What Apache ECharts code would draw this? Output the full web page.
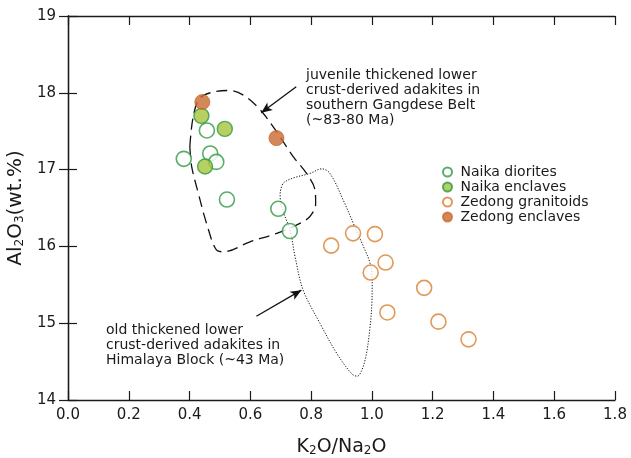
<!DOCTYPE html>
<html>
<head>
<meta charset="utf-8">
<script src="https://cdn.jsdelivr.net/npm/echarts@6/dist/echarts.min.js"></script>
<style>
  html, body { margin: 0; padding: 0; background: #fff; }
  #chart { width: 631px; height: 458px; }
</style>
</head>
<body>
<div id="chart"></div>
<script>
// K2O/Na2O vs Al2O3 samples
const naikaDiorites = [[0.457, 17.51], [0.468, 17.21], [0.381, 17.14], [0.488, 17.10], [0.523, 16.61], [0.692, 16.49], [0.730, 16.20]];
const naikaEnclaves = [[0.439, 17.70], [0.516, 17.53], [0.451, 17.04]];
const zedongGranitoids = [[0.866, 16.01], [0.938, 16.17], [1.010, 16.16], [1.045, 15.79], [0.996, 15.66], [1.172, 15.46], [1.051, 15.14], [1.219, 15.02], [1.318, 14.79]];
const zedongEnclaves = [[0.442, 17.88], [0.686, 17.41]];

// Outline of the juvenile (~83-80 Ma) adakite field
const juvenileField = [
  [0.401, 17.30], [0.412, 17.69], [0.434, 17.93], [0.478, 18.01], [0.533, 18.03], [0.577, 17.97],
  [0.632, 17.78], [0.687, 17.49], [0.741, 17.17], [0.785, 16.95], [0.813, 16.73], [0.815, 16.56],
  [0.796, 16.39], [0.753, 16.28], [0.687, 16.17], [0.599, 16.06], [0.511, 15.93], [0.489, 15.95],
  [0.456, 16.30], [0.429, 16.69], [0.407, 17.04], [0.401, 17.30]
];
// Outline of the old (~43 Ma) Himalaya Block adakite field
const oldField = [
  [0.698, 16.69], [0.708, 16.82], [0.741, 16.89], [0.796, 16.95], [0.835, 17.01], [0.862, 16.95],
  [0.906, 16.60], [0.939, 16.30], [0.972, 16.00], [0.994, 15.78], [1.001, 15.56], [1.000, 15.26],
  [0.993, 14.92], [0.981, 14.58], [0.966, 14.38], [0.952, 14.31], [0.934, 14.34], [0.884, 14.61],
  [0.829, 15.00], [0.774, 15.43], [0.747, 15.87], [0.731, 16.21], [0.714, 16.39], [0.700, 16.56],
  [0.698, 16.69]
];
// Leader arrows: [tail, head]
const juvenileArrow = [[0.751, 18.08], [0.636, 17.74]];
const oldArrow = [[0.620, 15.09], [0.768, 15.43]];

const xTicks = { min: 0, max: 1.8, interval: 0.2 };
const yTicks = { min: 14, max: 19, interval: 1 };

const FONT = 'DejaVu Sans';
const INK = '#1a1a1a';
const GREEN = '#2f9843';
const GREEN_FILL = '#a5c43a';
const ORANGE = '#d9802f';
const ORANGE_FILL = '#c96a31';

const chart = echarts.init(document.getElementById('chart'), null, { renderer: 'canvas' });

const axisLine = { show: true, lineStyle: { color: INK, width: 1.3 } };
const axisTick = { show: true, inside: true, length: 9, lineStyle: { color: INK, width: 1.2 } };
const subRich = { sub: { fontSize: 12, fontFamily: FONT, color: INK, verticalAlign: 'bottom', padding: [8, 0, 0, 0] } };

function arrowLine(pair) {
  return [{ coord: pair[0] }, { coord: pair[1] }];
}

chart.setOption({
  animation: false,
  backgroundColor: '#fff',
  grid: { left: 68, right: 16, top: 16, bottom: 58, containLabel: false, outerBoundsMode: 'none' },
  xAxis: [
    {
      type: 'value', position: 'bottom', min: xTicks.min, max: xTicks.max, interval: xTicks.interval,
      axisLine, axisTick, splitLine: { show: false },
      axisLabel: { margin: 8, color: INK, fontFamily: FONT, fontSize: 15, formatter: v => v.toFixed(1) },
      name: 'K{sub|2}O/Na{sub|2}O', nameLocation: 'middle', nameGap: 37,
      nameTextStyle: { fontFamily: FONT, fontSize: 19, color: INK, rich: subRich }
    },
    {
      type: 'value', position: 'top', min: xTicks.min, max: xTicks.max, interval: xTicks.interval,
      axisLine, axisTick, axisLabel: { show: false }, splitLine: { show: false }
    }
  ],
  yAxis: [
    {
      type: 'value', position: 'left', min: yTicks.min, max: yTicks.max, interval: yTicks.interval,
      axisLine, axisTick, splitLine: { show: false },
      axisLabel: { margin: 12, color: INK, fontFamily: FONT, fontSize: 15 },
      name: 'Al{sub|2}O{sub|3}(wt.%)', nameLocation: 'middle', nameGap: 36,
      nameTextStyle: { fontFamily: FONT, fontSize: 20, color: INK, rich: subRich }
    },
    {
      type: 'value', position: 'right', min: yTicks.min, max: yTicks.max, interval: yTicks.interval,
      axisLine, axisTick, axisLabel: { show: false }, splitLine: { show: false }
    }
  ],
  legend: {
    orient: 'vertical', left: 437, top: 160,
    itemWidth: 18, itemHeight: 9, itemGap: 1,
    textStyle: { fontFamily: FONT, fontSize: 14, color: INK, padding: [0, 0, 0, -1] },
    data: ['Naika diorites', 'Naika enclaves', 'Zedong granitoids', 'Zedong enclaves']
  },
  graphic: [
    {
      type: 'text', left: 306, top: 68,
      style: {
        text: 'juvenile thickened lower\ncrust-derived adakites in\nsouthern Gangdese Belt\n(~83-80 Ma)',
        fontFamily: FONT, fontSize: 14, lineHeight: 15, fill: INK
      }
    },
    {
      type: 'text', left: 106, top: 323,
      style: {
        text: 'old thickened lower\ncrust-derived adakites in\nHimalaya Block (~43 Ma)',
        fontFamily: FONT, fontSize: 14, lineHeight: 15, fill: INK
      }
    }
  ],
  series: [
    {
      name: 'juvenile field', type: 'line', data: juvenileField, smooth: 0.35,
      showSymbol: false, silent: true, z: 1,
      lineStyle: { color: '#111', width: 1.3, type: [11, 6] },
      markLine: {
        silent: true, symbol: ['none', 'arrow'], symbolSize: [7, 11],
        label: { show: false },
        lineStyle: { color: '#111', width: 1.3, type: 'solid' },
        data: [arrowLine(juvenileArrow)]
      }
    },
    {
      name: 'old field', type: 'line', data: oldField, smooth: 0.35,
      showSymbol: false, silent: true, z: 1,
      lineStyle: { color: '#111', width: 1, type: [1.2, 1.6] },
      markLine: {
        silent: true, symbol: ['none', 'arrow'], symbolSize: [7, 11],
        label: { show: false },
        lineStyle: { color: '#111', width: 1.3, type: 'solid' },
        data: [arrowLine(oldArrow)]
      }
    },
    {
      name: 'Naika diorites', type: 'scatter', data: naikaDiorites, symbol: 'circle', symbolSize: 15, z: 3,
      itemStyle: { color: '#fff', borderColor: GREEN, borderWidth: 1.6 }
    },
    {
      name: 'Zedong granitoids', type: 'scatter', data: zedongGranitoids, symbol: 'circle', symbolSize: 15, z: 3,
      itemStyle: { color: '#fff', borderColor: ORANGE, borderWidth: 1.6 }
    },
    {
      name: 'Naika enclaves', type: 'scatter', data: naikaEnclaves, symbol: 'circle', symbolSize: 15, z: 4,
      itemStyle: { color: GREEN_FILL, borderColor: GREEN, borderWidth: 1.4 }
    },
    {
      name: 'Zedong enclaves', type: 'scatter', data: zedongEnclaves, symbol: 'circle', symbolSize: 15, z: 4,
      itemStyle: { color: ORANGE_FILL, borderColor: ORANGE_FILL, borderWidth: 1 }
    }
  ]
});
</script>
</body>
</html>
